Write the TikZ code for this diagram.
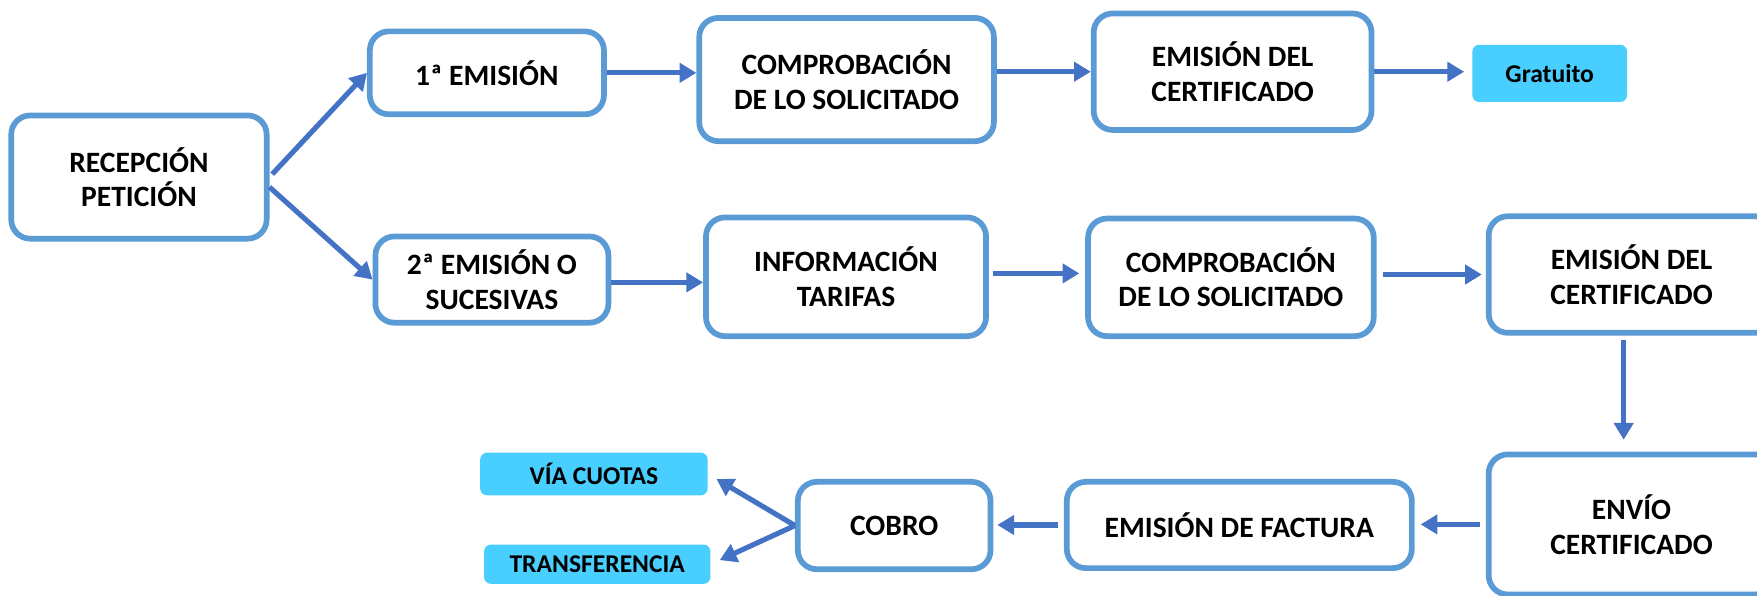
\documentclass[tikz,border=0pt]{standalone}
\usepackage{fontspec}
\setmainfont{Carlito}
\usepackage{xcolor}
\definecolor{boxblue}{RGB}{91,155,213}
\definecolor{arrowblue}{RGB}{68,114,196}
\definecolor{tagcyan}{RGB}{72,207,255}
\usepackage{tikz}
\usetikzlibrary{arrows.meta, calc}
\tikzstyle{stage} = [
    draw=boxblue, line width=2.9pt, fill=white,
    rounded corners=0.34cm, align=center, inner sep=0pt,
    font=\fontsize{15}{17.6}\selectfont\bfseries,
]
\tikzstyle{tag} = [
    fill=tagcyan, rounded corners=0.12cm, inner sep=0pt,
    font=\fontsize{13}{15.6}\selectfont\bfseries,
]
\tikzstyle{arrow} = [-{Triangle[length=0.3cm,width=0.34cm]}, draw=arrowblue, line width=2.6pt]

\begin{document}
\begin{tikzpicture}[x=0.02cm, y=-0.02cm]
    \useasboundingbox (0,0) rectangle (1568,531);

    % first issue
    \node (recep) at (124, 158) [stage, minimum width=4.56cm, minimum height=2.2cm] {RECEPCIÓN\\PETICIÓN};
    \node (em1) at (434.5, 65) [stage, minimum width=4.18cm, minimum height=1.48cm] {1ª EMISIÓN};
    \node (comp1) at (755.5, 71) [stage, minimum width=5.26cm, minimum height=2.2cm] {COMPROBACIÓN\\DE LO SOLICITADO};
    \node (cert1) at (1100, 64) [stage, minimum width=4.96cm, minimum height=2.08cm] {EMISIÓN DEL\\CERTIFICADO};
    \node (free) at (1383, 65.5) [tag, minimum width=2.76cm, minimum height=1.02cm] {Gratuito};

    % later issues
    \node (em2) at (439, 249.5) [stage, minimum width=4.16cm, minimum height=1.54cm] {2ª EMISIÓN O\\SUCESIVAS};
    \node (info) at (755, 247) [stage, minimum width=5cm, minimum height=2.12cm] {INFORMACIÓN\\TARIFAS};
    \node (comp2) at (1098.5, 247.5) [stage, minimum width=5.1cm, minimum height=2.1cm] {COMPROBACIÓN\\DE LO SOLICITADO};
    \node (cert2) at (1456, 245) [stage, minimum width=5.1cm, minimum height=2.08cm] {EMISIÓN DEL\\CERTIFICADO};

    % billing
    \node (envio) at (1456, 468) [stage, minimum width=5.1cm, minimum height=2.5cm] {ENVÍO\\CERTIFICADO};
    \node (factura) at (1106, 468.5) [stage, minimum width=6.16cm, minimum height=1.54cm] {EMISIÓN DE FACTURA};
    \node (cobro) at (798, 469) [stage, minimum width=3.44cm, minimum height=1.56cm] {COBRO};
    \node (cuotas) at (530, 423) [tag, minimum width=4.06cm, minimum height=0.76cm] {VÍA CUOTAS};
    \node (transf) at (533, 503.5) [tag, minimum width=4.04cm, minimum height=0.7cm] {TRANSFERENCIA};

    \draw[arrow, shorten <=2pt] (recep.east) -- (em1.west);
    \draw[arrow] ([yshift=-0.18cm]recep.east) -- (em2.west);
    \draw[arrow] (em1.east) -- (em1.east -| comp1.west);
    \draw[arrow] (comp1.east |- cert1.west) -- (cert1.west);
    \draw[arrow, shorten >=4pt] (cert1.east) -- (cert1.east -| free.west);
    \draw[arrow] ([yshift=-0.05cm]em2.east) -- ([yshift=-0.05cm]em2.east -| info.west);
    \draw[arrow, shorten <=2pt, shorten >=3pt] ([yshift=0.06cm]info.east) -- ([yshift=0.06cm]info.east -| comp2.west);
    \draw[arrow, shorten <=3pt, shorten >=2pt] (comp2.east |- cert2.west) -- (cert2.west);
    \draw[arrow, shorten <=2pt, shorten >=6pt] ([xshift=-0.14cm]cert2.south) -- ([xshift=-0.14cm]envio.north);
    \draw[arrow, shorten <=3pt, shorten >=3pt] (envio.west) -- (envio.west -| factura.east);
    \draw[arrow, shorten <=3pt, shorten >=2pt] (factura.west) -- (factura.west -| cobro.east);
    \draw[arrow, shorten >=5pt] (cobro.west) -- (cuotas.east);
    \draw[arrow, shorten >=5pt] (cobro.west) -- (transf.east);
\end{tikzpicture}
\end{document}
